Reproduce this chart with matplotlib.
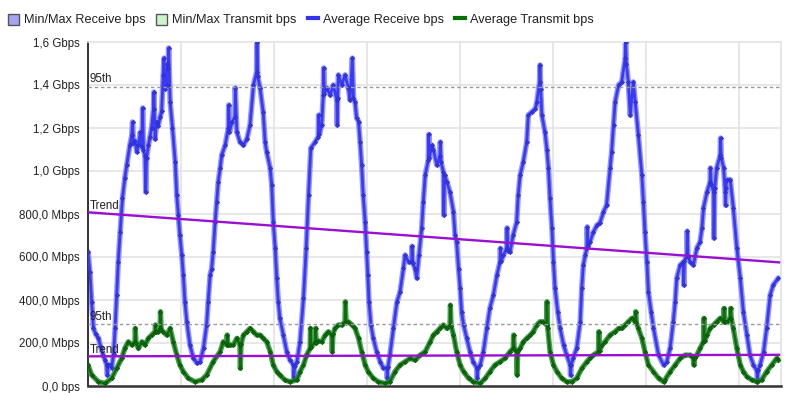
import matplotlib
matplotlib.use("Agg")
import matplotlib.pyplot as plt
from matplotlib.patches import Rectangle
from matplotlib.lines import Line2D

# ---------------- data (hours since start, Mbps) ----------------
rx_hours = [0.0, 0.5, 0.95, 1.4, 2.0, 2.7, 3.3, 3.9, 4.4, 4.8, 5.0, 5.2, 5.7, 6.1, 6.6, 7.0, 7.4, 7.8, 8.3, 8.9,
            9.5, 10.0, 10.8, 11.3, 11.5, 11.7, 12.1, 12.6, 13.0, 13.5, 13.9, 14.1, 14.3, 14.7, 14.9, 15.1, 15.6,
            16.0, 16.4, 16.9, 17.0, 17.3, 17.7, 18.1, 18.6, 19.0, 19.4, 19.6, 19.9, 20.3, 20.5, 20.7, 20.8, 21.2,
            21.8, 22.5, 22.9, 23.3, 23.7, 24.2, 24.6, 25.0, 25.5, 26.3, 27.2, 28.1, 28.9, 29.8, 30.6, 31.0, 31.5,
            31.9, 32.3, 32.8, 33.2, 33.6, 34.1, 34.5, 35.4, 36.2, 36.3, 36.5, 37.1, 37.9, 38.0, 38.4, 39.2, 40.1,
            41.0, 41.8, 42.7, 43.5, 43.6, 43.8, 44.4, 45.2, 45.7, 46.1, 47.0, 47.4, 47.8, 48.3, 48.7, 49.1, 49.5,
            50.4, 51.3, 52.1, 53.0, 53.1, 53.3, 53.9, 54.7, 55.6, 56.3, 56.9, 57.5, 58.6, 59.4, 59.5, 59.7, 60.3,
            60.7, 60.8, 61.0, 61.6, 62.5, 63.3, 64.2, 64.3, 64.4, 64.6, 65.5, 66.3, 67.2, 67.6, 68.2, 68.5, 68.9,
            69.3, 69.8, 70.2, 70.6, 71.0, 71.5, 71.9, 72.2, 72.5, 73.0, 73.6, 74.5, 75.4, 76.2, 77.1, 77.2, 77.4,
            77.9, 78.8, 79.7, 80.5, 81.4, 81.8, 82.7, 83.5, 83.6, 83.8, 84.4, 84.8, 85.4, 86.1, 86.5, 87.0, 87.8,
            87.9, 88.1, 88.7, 89.1, 90.0, 90.8, 90.9, 91.1, 91.7, 91.8, 92.0, 92.6, 93.4, 94.3, 94.7, 95.1, 95.6,
            96.0, 96.4, 96.9, 97.7, 98.6, 99.4, 100.3, 100.4, 100.6, 101.2, 102.0, 102.9, 103.7, 104.6, 105.5,
            106.3, 106.4, 106.6, 107.2, 108.0, 108.1, 108.3, 108.9, 109.7, 110.6, 111.0, 111.5, 112.3, 113.2,
            113.6, 114.5, 115.4, 115.8, 116.5, 116.6, 116.8, 117.1, 117.9, 118.4, 118.8, 119.2, 119.7, 120.1,
            120.5, 121.2, 121.8, 122.7, 123.5, 124.4, 124.5, 124.7, 125.2, 126.1, 127.0, 127.4, 127.8, 128.3,
            128.7, 128.8, 129.0, 129.5, 130.4, 131.3, 132.1, 133.0, 133.8, 134.7, 135.1, 135.6, 136.0, 136.9,
            137.7, 138.6, 138.7, 138.9, 139.4, 139.9, 140.7, 141.2, 142.0, 142.9, 143.3, 143.7, 144.2, 144.6,
            145.3, 145.9, 147.2, 148.5, 149.3, 150.2, 151.0, 151.5, 151.9, 152.8, 153.6, 153.7, 153.9, 154.5,
            154.6, 154.8, 155.4, 156.2, 157.1, 157.9, 158.4, 158.8, 159.7, 160.5, 160.6, 160.8, 161.4, 161.5,
            161.7, 162.2, 163.1, 163.2, 163.4, 164.0, 164.4, 164.5, 164.6, 164.8, 165.7, 166.5, 167.4, 168.3,
            169.1, 170.0, 170.8, 171.7, 172.6, 172.7, 172.9, 173.4, 174.3, 175.1, 176.0, 176.8, 178.1]
rx_mbps = [623, 530, 390, 270, 240, 223, 180, 144, 120, 98, 51, 100, 98, 84, 150, 270, 423, 577, 716, 874,
           967, 1028, 1121, 1167, 1228, 1130, 1140, 1090, 1120, 1180, 1110, 1293, 1100, 1070, 902, 1060, 1120,
           1160, 1200, 1290, 1367, 1150, 1230, 1210, 1250, 1280, 1447, 1525, 1380, 1400, 1500, 1480, 1572, 1320,
           1200, 1042, 888, 795, 702, 609, 516, 391, 298, 191, 130, 107, 112, 177, 284, 391, 516,
           546, 623, 763, 856, 949, 1014, 1074, 1121, 1200, 1307, 1180, 1228, 1250, 1386, 1181, 1135, 1120,
           1150, 1214, 1400, 1460, 1600, 1440, 1386, 1274, 1135, 1088, 1014, 935, 763, 642, 502, 391, 316,
           237, 158, 121, 98, 37, 95, 112, 205, 409, 642, 888, 1107, 1135, 1160, 1260, 1170, 1214,
           1353, 1479, 1360, 1386, 1353, 1400, 1330, 1214, 1340, 1447, 1400, 1447, 1386, 1330, 1525, 1340, 1321,
           1247, 1230, 1135, 1028, 888, 763, 623, 516, 391, 284, 223, 158, 112, 84, 84, 37, 90,
           144, 270, 391, 437, 549, 609, 577, 577, 650, 570, 546, 502, 609, 735, 856, 981, 1050,
           1170, 1060, 1121, 1100, 1028, 1070, 1135, 1040, 995, 795, 980, 949, 902, 809, 702, 670, 546,
           456, 344, 284, 223, 158, 112, 84, 37, 85, 98, 158, 270, 363, 423, 516,
           577, 640, 580, 609, 640, 735, 630, 625, 702, 763, 888, 981, 1042, 1135,
           1260, 1275, 1290, 1321, 1414, 1493, 1380, 1260, 1181, 1100, 1014, 874, 735, 577,
           456, 344, 270, 191, 144, 98, 50, 100, 130, 177, 298, 456, 563, 609,
           640, 740, 650, 670, 716, 748, 760, 809, 842, 1014, 1088, 1214, 1321, 1400,
           1414, 1525, 1600, 1500, 1414, 1260, 1414, 1321, 1167, 981, 856, 716, 577, 437,
           344, 270, 144, 98, 112, 177, 298, 391, 502, 563, 577, 470, 580, 609,
           720, 600, 577, 563, 642, 670, 733, 828, 902, 949, 1014, 940, 902, 688,
           920, 1014, 1074, 1153, 1060, 1014, 902, 840, 920, 960, 960, 828, 642, 502,
           344, 237, 144, 98, 70, 20, 75, 98, 158, 270, 423, 470, 502]

tx_hours = [0.0, 0.95, 2.7, 4.4, 6.1, 7.4, 8.7, 9.5, 10.4, 11.3, 12.1, 12.2, 12.4, 13.0, 13.9, 14.7, 15.6, 16.4,
            17.3, 17.4, 17.6, 18.1, 18.6, 18.7, 18.9, 19.4, 20.3, 21.2, 22.0, 22.9, 23.7, 24.6, 25.9, 27.6, 29.3,
            30.6, 32.3, 34.1, 34.9, 35.8, 35.9, 36.1, 36.6, 37.5, 38.4, 39.2, 39.3, 39.5, 40.1, 41.0, 41.8, 42.7,
            43.5, 44.4, 45.2, 46.1, 47.0, 47.8, 48.7, 49.5, 50.8, 52.1, 53.9, 54.7, 55.6, 56.4, 57.3, 57.4, 57.6,
            58.6, 58.7, 58.9, 59.4, 60.3, 61.2, 62.0, 62.9, 63.0, 63.2, 63.7, 64.6, 65.5, 66.3, 66.4, 66.6, 67.2,
            68.1, 68.9, 69.8, 70.6, 71.5, 72.3, 73.6, 74.9, 76.6, 77.9, 79.2, 80.5, 81.8, 83.1, 84.4, 85.7, 87.0,
            88.3, 89.1, 90.0, 90.8, 91.7, 92.6, 93.4, 93.5, 93.7, 94.3, 95.1, 96.0, 96.9, 98.2, 99.4, 101.2, 102.5,
            103.7, 105.0, 106.3, 107.6, 108.9, 109.7, 109.8, 110.0, 110.6, 110.7, 110.9, 111.5, 112.3, 113.2,
            114.1, 114.9, 115.8, 116.6, 117.5, 118.3, 118.4, 118.6, 119.2, 120.1, 121.0, 122.2, 123.5, 124.8,
            126.1, 127.4, 128.7, 129.5, 130.4, 131.7, 131.8, 132.0, 132.6, 133.4, 134.7, 136.0, 136.9, 137.7,
            138.6, 139.4, 140.3, 141.2, 141.3, 141.5, 142.0, 142.9, 143.7, 144.6, 145.9, 147.2, 148.5, 148.9,
            150.2, 151.5, 152.8, 154.1, 155.4, 156.2, 156.3, 156.5, 157.1, 157.9, 158.8, 158.9, 159.1, 159.7,
            160.5, 161.4, 162.2, 163.1, 164.0, 164.1, 164.3, 164.8, 165.7, 165.8, 166.0, 166.5, 167.4, 168.3,
            169.1, 170.0, 171.3, 172.6, 173.8, 175.1, 176.4, 177.7, 178.1]
tx_mbps = [98, 51, 20, 12, 36, 82, 129, 175, 206, 191, 206, 268, 200, 175, 206, 191, 222, 237,
           253, 284, 250, 253, 268, 346, 260, 253, 237, 268, 206, 144, 98, 67, 36, 20, 28,
           51, 113, 160, 206, 191, 237, 190, 191, 191, 222, 191, 82, 195, 237, 253, 268, 253,
           237, 237, 222, 206, 160, 98, 67, 51, 28, 20, 28, 67, 98, 144, 175, 268, 180,
           206, 268, 200, 210, 206, 237, 253, 237, 160, 240, 268, 284, 284, 299, 392, 295, 299,
           284, 268, 222, 160, 98, 67, 36, 20, 12, 20, 67, 98, 113, 129, 120, 144, 160,
           206, 237, 253, 268, 284, 268, 284, 376, 280, 237, 160, 98, 67, 36, 20, 12, 36,
           67, 98, 113, 129, 160, 175, 237, 170, 160, 51, 165, 175, 206, 222,
           237, 253, 284, 299, 299, 284, 392, 270, 160, 98, 67, 36, 20, 20,
           36, 82, 113, 129, 144, 160, 253, 165, 191, 206, 237, 253, 268, 268,
           284, 299, 315, 299, 346, 295, 268, 222, 160, 98, 67, 36, 20, 30,
           67, 98, 129, 144, 144, 129, 98, 130, 144, 175, 206, 315, 210, 237,
           268, 284, 299, 315, 299, 361, 300, 299, 315, 361, 310, 268, 175, 98,
           67, 44, 28, 20, 28, 67, 98, 129, 120]

rx_p95 = 1392
tx_p95 = 288
trend_hours = [0.0, 178.3]
rx_trend = [808, 575]
tx_trend = [138, 145]

y_ticks = [0, 200, 400, 600, 800, 1000, 1200, 1400, 1600]
y_labels = ["0,0 bps", "200,0 Mbps", "400,0 Mbps", "600,0 Mbps", "800,0 Mbps",
            "1,0 Gbps", "1,2 Gbps", "1,4 Gbps", "1,6 Gbps"]
day_lines = [24, 48, 72, 96, 120, 144, 168]
legend_labels = ["Min/Max Receive bps", "Min/Max Transmit bps",
                 "Average Receive bps", "Average Transmit bps"]

# ---------------- figure ----------------
W, H = 795, 393
fig = plt.figure(figsize=(W / 100, H / 100), dpi=100)
L, R, T, B = 88, 781, 42, 386
ax = fig.add_axes([L / W, 1 - B / H, (R - L) / W, (B - T) / H])

ax.set_xlim(0, 178.8)
ax.set_ylim(0, 1600)

grid_c = "#e3e3e3"
for d in day_lines:
    ax.axvline(d, color=grid_c, lw=1.2, zorder=0)
for y in y_ticks[1:-1]:
    ax.axhline(y, color=grid_c, lw=1.2, zorder=0)

ax.set_yticks(y_ticks)
ax.set_yticklabels(y_labels, fontsize=8.3, family=["Liberation Sans", "DejaVu Sans"], color="#222222")
ax.tick_params(axis="y", length=0, pad=6)
ax.set_xticks([])

for s in ["top", "right"]:
    ax.spines[s].set_color(grid_c)
    ax.spines[s].set_linewidth(1.2)
ax.spines["left"].set_color("#222222")
ax.spines["bottom"].set_color("#333333")
ax.spines["left"].set_linewidth(1.3)
ax.spines["bottom"].set_linewidth(1.8)

# receive: min/max band look + average line
ax.plot(rx_hours, rx_mbps, color="#6a6aff", lw=4.0, alpha=0.7, solid_joinstyle="round",
        solid_capstyle="round", zorder=2)
ax.plot(rx_hours, rx_mbps, color="#3a3af5", lw=2.0, marker="D", ms=2.2,
        mfc="#3535e8", mec="#2a2ac0", mew=0.4, zorder=3)

# transmit
ax.plot(tx_hours, tx_mbps, color="#23852a", lw=3.8, alpha=0.8, solid_joinstyle="round",
        solid_capstyle="round", zorder=4)
ax.plot(tx_hours, tx_mbps, color="#0a6e0a", lw=1.8, marker="D", ms=2.2,
        mfc="#0a6a0a", mec="#045004", mew=0.4, zorder=5)

# 95th percentile lines
ax.axhline(rx_p95, color="#9a9a9a", lw=1.0, ls=(0, (2.5, 2)), zorder=6)
ax.axhline(tx_p95, color="#9a9a9a", lw=1.0, ls=(0, (2.5, 2)), zorder=6)

# trend lines
ax.plot(trend_hours, rx_trend, color="#9a10d0", lw=1.7, zorder=7)
ax.plot(trend_hours, tx_trend, color="#9a10d0", lw=1.7, zorder=7)

lab_kw = dict(fontsize=8.3, family=["Liberation Sans", "DejaVu Sans"], color="#222222",
              ha="left", va="bottom", zorder=8, textcoords="offset points")
ax.annotate("95th", (0, rx_p95), xytext=(1, 1), **lab_kw)
ax.annotate("95th", (0, tx_p95), xytext=(1, 1), **lab_kw)
ax.annotate("Trend", (0, rx_trend[0]), xytext=(1, 0), **lab_kw)
ax.annotate("Trend", (0, tx_trend[0]), xytext=(1, 0), **lab_kw)

# ---------------- legend (manual) ----------------
def fx(px):
    return px / W

def fy(py):
    return 1 - py / H

leg_font = dict(fontsize=9.2, family=["Liberation Sans", "DejaVu Sans"], color="#222222",
                va="center", ha="left")
ly = 20
fig.patches.append(Rectangle((fx(8), fy(25)), 11 / W, 11 / H, transform=fig.transFigure,
                             facecolor="#a3a3ee", edgecolor="#555555", lw=1.0))
fig.text(fx(24), fy(ly), legend_labels[0], **leg_font)
fig.patches.append(Rectangle((fx(156), fy(25)), 11 / W, 11 / H, transform=fig.transFigure,
                             facecolor="#cdf3cd", edgecolor="#555555", lw=1.0))
fig.text(fx(172), fy(ly), legend_labels[1], **leg_font)
fig.lines.append(Line2D([fx(308), fx(318)], [fy(18), fy(18)], transform=fig.transFigure,
                        color="#3333f0", lw=3))
fig.text(fx(323), fy(ly), legend_labels[2], **leg_font)
fig.lines.append(Line2D([fx(455), fx(465)], [fy(18), fy(18)], transform=fig.transFigure,
                        color="#007000", lw=3))
fig.text(fx(470), fy(ly), legend_labels[3], **leg_font)

fig.savefig("out.png", dpi=100)
